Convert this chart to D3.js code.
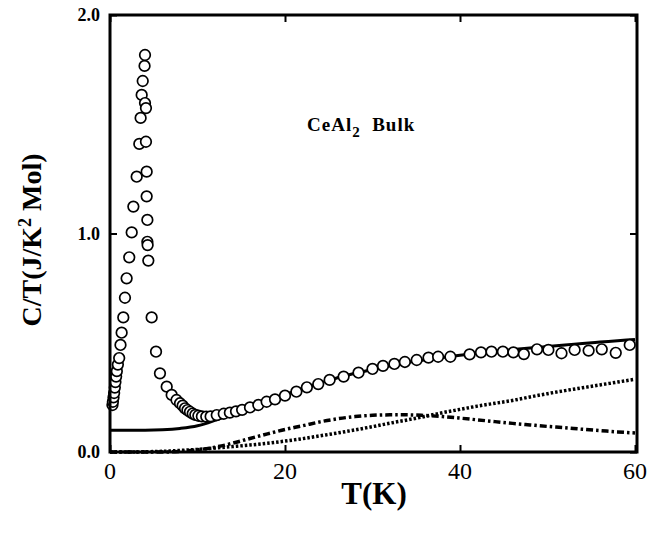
<html>
<head>
<script src="https://d3js.org/d3.v7.min.js"></script>
<style>
body { margin: 0; background: #fff; }
</style>
</head>
<body>
<script>
// measured C/T, CeAl2 bulk
var tempK = [0.28,0.33,0.4,0.47,0.55,0.62,0.7,0.78,0.9,1.05,1.2,1.33,1.52,1.71,1.9,2.2,2.48,2.67,3.05,3.35,3.5,3.62,3.74,3.95,4.0,
  4.0,4.11,4.11,4.19,4.19,4.27,4.27,4.3,4.38,4.76,5.26,5.71,6.48,7.05,7.6,8.0,8.3,8.57,8.85,9.14,9.45,9.75,10.1,10.5,11.0,11.5,
  12.2,13.0,13.7,14.4,15.1,16.0,16.95,17.9,18.86,20.0,21.3,22.5,23.8,25.1,26.7,28.4,30.0,31.2,32.5,33.7,35.05,36.4,37.5,38.9,
  41.1,42.4,43.6,44.9,46.1,47.3,48.8,50.1,51.6,53.1,54.7,56.2,57.8,59.4];
var cOverT = [0.215,0.23,0.25,0.27,0.295,0.32,0.345,0.37,0.4,0.43,0.49,0.546,0.616,0.706,0.795,0.891,1.005,1.123,1.26,1.41,1.529,1.634,1.698,1.767,1.817,
  1.597,1.574,1.42,1.283,1.17,1.062,0.962,0.947,0.876,0.616,0.459,0.36,0.299,0.261,0.238,0.223,0.212,0.2,0.192,0.184,0.176,0.17,0.166,0.163,0.162,0.163,
  0.169,0.175,0.18,0.186,0.193,0.204,0.215,0.23,0.241,0.258,0.276,0.296,0.311,0.33,0.345,0.363,0.38,0.394,0.403,0.412,0.421,0.432,0.436,0.436,
  0.447,0.456,0.459,0.459,0.456,0.448,0.47,0.467,0.452,0.467,0.464,0.47,0.454,0.49];

// fit curves
var curveT = [0,2,4,6,8,10,12,14,16,18,20,22,24,26,28,30,32,34,36,38,40,42,44,46,48,50,52,54,56,58,60];
var totalFit = [0.10,0.10,0.10,0.102,0.108,0.12,0.145,0.175,0.205,0.235,0.262,0.29,0.315,0.34,0.36,0.378,0.395,0.41,0.422,0.433,0.443,0.452,0.46,0.468,0.476,0.483,0.49,0.497,0.503,0.509,0.515];
var schottky = [0,0,0,0,0.003,0.01,0.022,0.04,0.062,0.083,0.103,0.12,0.138,0.152,0.162,0.168,0.17,0.17,0.167,0.162,0.155,0.147,0.139,0.131,0.124,0.117,0.111,0.104,0.098,0.092,0.087];
var phonon = [0,0,0.001,0.003,0.007,0.012,0.018,0.025,0.032,0.04,0.05,0.061,0.074,0.087,0.101,0.116,0.132,0.147,0.163,0.18,0.195,0.21,0.223,0.236,0.252,0.267,0.281,0.294,0.307,0.32,0.333];

var xTicks = [0, 20, 40, 60];
var yTicks = [0, 1, 2];

var width = 648;
var height = 535;
var margin = {top: 15, right: 13, bottom: 83, left: 110};
var w = width - margin.left - margin.right;
var h = height - margin.top - margin.bottom;

var x = d3.scaleLinear().domain([0, 60]).range([0, w]);
var y = d3.scaleLinear().domain([0, 2]).range([h, 0]);

var svg = d3.select("body").append("svg")
    .attr("width", width)
    .attr("height", height)
    .style("font-family", "'Liberation Serif', 'Times New Roman', serif");

var g = svg.append("g")
    .attr("transform", "translate(" + margin.left + "," + margin.top + ")");

var line = function(vals) {
  return d3.line()
    .x(function(d, i) { return x(curveT[i]); })
    .y(function(d) { return y(d); })
    .curve(d3.curveMonotoneX)(vals);
};

g.append("path").attr("d", line(phonon))
  .attr("fill", "none").attr("stroke", "#000")
  .attr("stroke-width", 3.5).attr("stroke-dasharray", "2.5,2");
g.append("path").attr("d", line(schottky))
  .attr("fill", "none").attr("stroke", "#000")
  .attr("stroke-width", 3.5).attr("stroke-dasharray", "7,3,2.5,3");
g.append("path").attr("d", line(totalFit))
  .attr("fill", "none").attr("stroke", "#000")
  .attr("stroke-width", 3);

g.append("g").selectAll("circle")
  .data(tempK)
  .enter().append("circle")
  .attr("cx", function(d) { return x(d); })
  .attr("cy", function(d, i) { return y(cOverT[i]); })
  .attr("r", 5.3)
  .attr("fill", "#fff")
  .attr("stroke", "#000")
  .attr("stroke-width", 1.7);

// frame
g.append("rect")
  .attr("x", 0).attr("y", 0)
  .attr("width", w + 2).attr("height", h)
  .attr("fill", "none").attr("stroke", "#000").attr("stroke-width", 3);

// inner ticks
var xAxisB = d3.axisBottom(x).tickValues(xTicks).tickSize(-7).tickFormat("");
var xAxisT = d3.axisTop(x).tickValues(xTicks).tickSize(-7).tickFormat("");
var yAxisL = d3.axisLeft(y).tickValues(yTicks).tickSize(-7).tickFormat("");
var yAxisR = d3.axisRight(y).tickValues(yTicks).tickSize(-7).tickFormat("");
[[xAxisB, "translate(0," + h + ")"], [xAxisT, "translate(0,0)"],
 [yAxisL, "translate(0,0)"], [yAxisR, "translate(" + (w + 2) + ",0)"]].forEach(function(a) {
  var ax = g.append("g").attr("transform", a[1]).call(a[0]);
  ax.select(".domain").remove();
  ax.selectAll("line").attr("stroke-width", 2);
});

// tick labels
g.append("g").selectAll("text")
  .data(xTicks)
  .enter().append("text")
  .attr("x", function(d) { return x(d); })
  .attr("y", h + 27)
  .attr("text-anchor", "middle")
  .attr("font-size", 24)
  .text(function(d) { return d; });

g.append("g").selectAll("text")
  .data(yTicks)
  .enter().append("text")
  .attr("x", -10)
  .attr("y", function(d) { return y(d) + 6; })
  .attr("text-anchor", "end")
  .attr("font-size", 18)
  .attr("font-weight", "bold")
  .text(function(d) { return d3.format(".1f")(d); });

// axis titles
svg.append("text")
  .attr("x", 374).attr("y", 504)
  .attr("text-anchor", "middle")
  .attr("font-size", 31)
  .attr("font-weight", "bold")
  .text("T(K)");

var yt = svg.append("text")
  .attr("transform", "translate(41,240) rotate(-90)")
  .attr("text-anchor", "middle")
  .attr("font-size", 28)
  .attr("font-weight", "bold");
yt.append("tspan").text("C/T(J/K");
yt.append("tspan").attr("dy", -10).attr("font-size", 18).text("2");
yt.append("tspan").attr("dy", 10).text("\u00a0Mol)");

var lab = svg.append("text")
  .attr("x", 307).attr("y", 131)
  .attr("font-size", 19)
  .attr("font-weight", "bold")
  .attr("letter-spacing", 1);
lab.append("tspan").text("CeAl");
lab.append("tspan").attr("dy", 6).attr("font-size", 15).text("2");
lab.append("tspan").attr("dy", -6).text("\u00a0\u00a0Bulk");
</script>
</body>
</html>
